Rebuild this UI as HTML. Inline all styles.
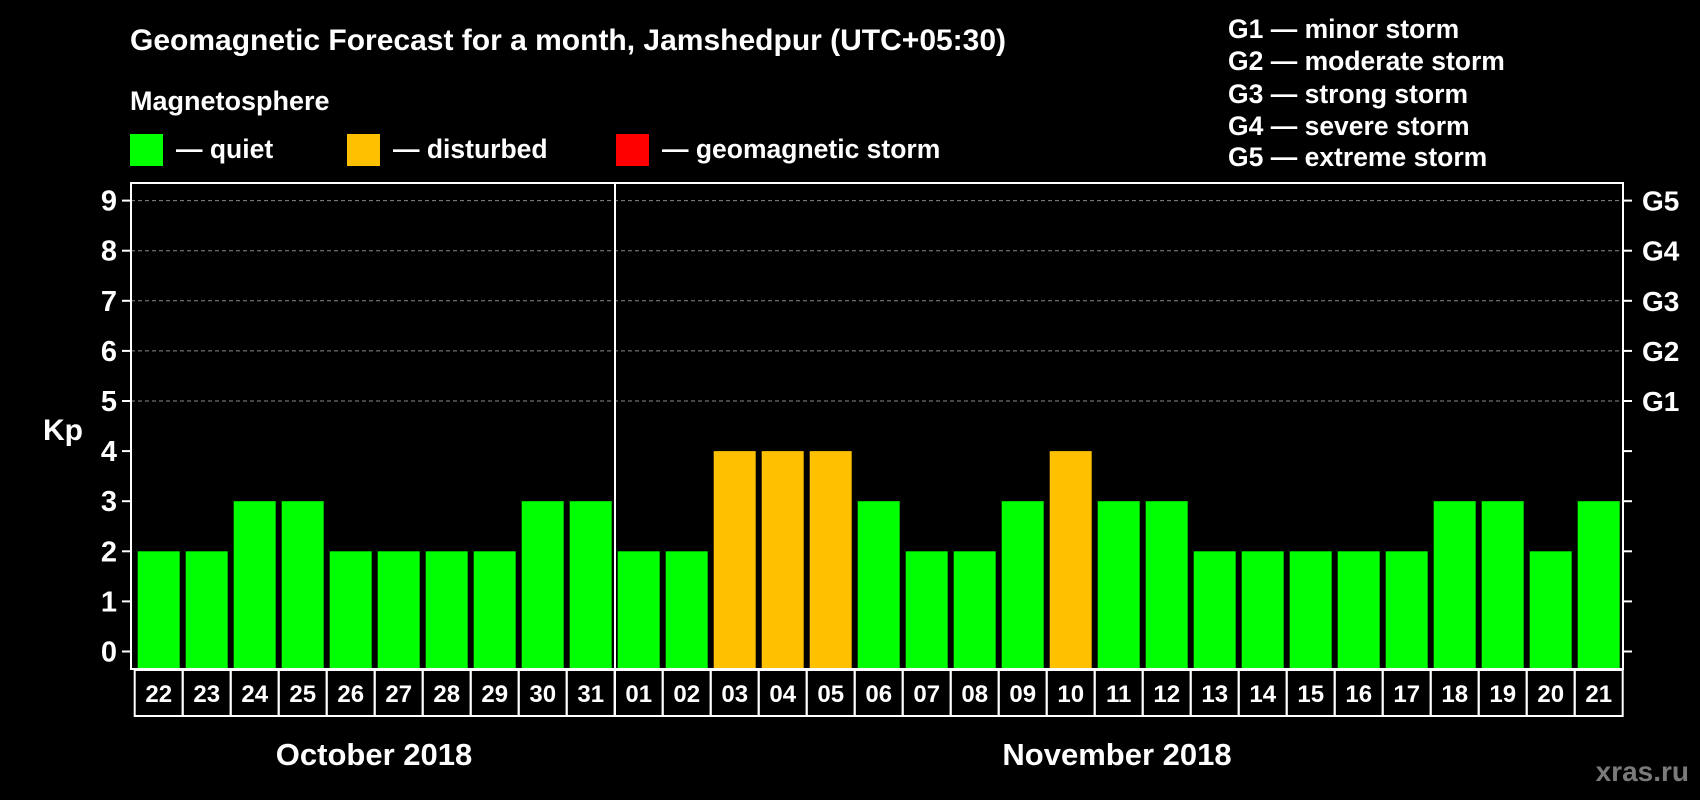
<!DOCTYPE html>
<html><head><meta charset="utf-8"><style>
body{margin:0;background:#000;width:1700px;height:800px;overflow:hidden}
svg{display:block;font-family:"Liberation Sans",Arial,sans-serif;font-weight:bold}
</style></head><body>
<svg id="c" width="1700" height="800">
<text x="130" y="50" fill="#fff" font-size="30">Geomagnetic Forecast for a month, Jamshedpur (UTC+05:30)</text>
<text x="130" y="110" fill="#fff" font-size="27">Magnetosphere</text>
<rect x="130" y="134" width="33" height="32" fill="#00ff00"/>
<text x="176" y="158" fill="#fff" font-size="26.5">— quiet</text>
<rect x="347" y="134" width="33" height="32" fill="#ffc000"/>
<text x="393" y="158" fill="#fff" font-size="26.5">— disturbed</text>
<rect x="616" y="134" width="33" height="32" fill="#ff0000"/>
<text x="662" y="158" fill="#fff" font-size="26.5">— geomagnetic storm</text>
<g font-size="26.5" fill="#fff">
<text x="1228" y="38">G1 — minor storm</text>
<text x="1228" y="70">G2 — moderate storm</text>
<text x="1228" y="103">G3 — strong storm</text>
<text x="1228" y="135">G4 — severe storm</text>
<text x="1228" y="166">G5 — extreme storm</text>
</g>
<text x="43" y="440" fill="#fff" font-size="30">Kp</text>
<text x="374" y="765" fill="#fff" font-size="31" text-anchor="middle">October 2018</text>
<text x="1117" y="765" fill="#fff" font-size="31" text-anchor="middle">November 2018</text>
<text x="1689" y="781" fill="#7a7a7a" font-size="28" text-anchor="end">xras.ru</text>
<g id="plot"></g>
</svg>
<script>
const days=["22","23","24","25","26","27","28","29","30","31","01","02","03","04","05","06","07","08","09","10","11","12","13","14","15","16","17","18","19","20","21"];
const kp=[2,2,3,3,2,2,2,2,3,3,2,2,4,4,4,3,2,2,3,4,3,3,2,2,2,2,2,3,3,2,3];
const yTicks=[0,1,2,3,4,5,6,7,8,9];
const gLabels=["G1","G2","G3","G4","G5"];
const NS="http://www.w3.org/2000/svg";
const g=document.getElementById('plot');
const L=131,R=1623,T=183,B=669,x0=135.7,pitch=48;
const y=v=>651.5-v*50.1;
const xs=i=>x0+i*pitch;
function mk(t,a){const e=document.createElementNS(NS,t);for(const k in a)e.setAttribute(k,a[k]);g.appendChild(e);return e;}
yTicks.forEach(v=>{
 if(v>=5){const l=mk('line',{x1:L,x2:R,y1:y(v),y2:y(v),stroke:'#888','stroke-dasharray':'4,3','stroke-width':1});
 
 }
 const t=mk('line',{x1:L-9,x2:L,y1:y(v),y2:y(v),stroke:'#fff','stroke-width':2});
 
 
 const t2=mk('line',{x1:R,x2:R+9,y1:y(v),y2:y(v),stroke:'#fff','stroke-width':2});
 
 
 const tx=mk('text',{x:117,y:y(v)+10,fill:'#fff','font-size':29,'text-anchor':'end'});tx.textContent=v;
 
 
});
gLabels.forEach((s,i)=>{const t=mk('text',{x:1642,y:y(5+i)+10,fill:'#fff','font-size':28});t.textContent=s;
 
 });
kp.forEach((v,i)=>{
 const c=v>=5?'#ff0000':v>=4?'#ffc000':'#00ff00';
 const b=mk('rect',{x:xs(i)+2,y:y(v),width:42,height:y(0)+17.5-y(v),fill:c});
 
 
 const bx=mk('rect',{x:xs(i)-1,y:B+1,width:pitch,height:46,fill:'none',stroke:'#fff','stroke-width':2});
 
 
 const t=mk('text',{x:xs(i)-1+pitch/2,y:B+33,fill:'#fff','font-size':24,'text-anchor':'middle'});t.textContent=days[i];
 
 
});
const f=mk('rect',{x:L,y:T,width:R-L,height:B-T,fill:'none',stroke:'#fff','stroke-width':2});


const d=mk('line',{x1:615,x2:615,y1:T,y2:B+47,stroke:'#fff','stroke-width':2});


</script>
</body></html>
